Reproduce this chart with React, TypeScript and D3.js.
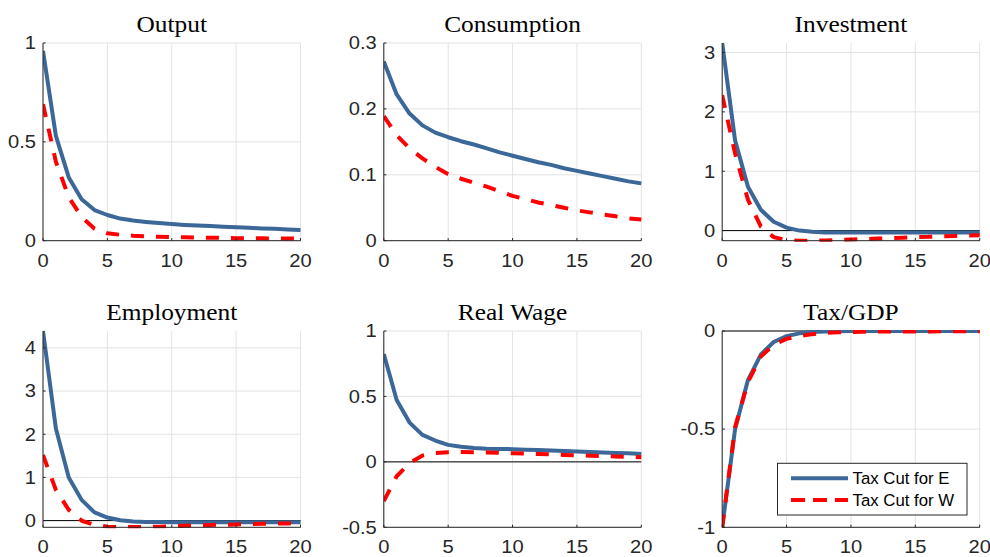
import React from "react";
import * as d3 from "d3";

const periods = d3.range(0, 21);
const xTicks = [0, 5, 10, 15, 20];

const titles = ["Output", "Consumption", "Investment", "Employment", "Real Wage", "Tax/GDP"];
const yDomains: [number, number][] = [[0, 1], [0, 0.3], [-0.17, 3.16], [-0.155, 4.39], [-0.5, 1], [-1, 0]];
const yTicks = [[0, 0.5, 1], [0, 0.1, 0.2, 0.3], [0, 1, 2, 3], [0, 1, 2, 3, 4], [-0.5, 0, 0.5, 1], [-1, -0.5, 0]];
const zeroLine = [false, false, true, true, true, true];

const outputE = [0.96, 0.53, 0.32, 0.21, 0.155, 0.13, 0.112, 0.102, 0.095, 0.089, 0.084, 0.08, 0.077, 0.074, 0.071, 0.068, 0.065, 0.062, 0.06, 0.057, 0.054];
const outputW = [0.69, 0.4, 0.22, 0.12, 0.06, 0.038, 0.03, 0.025, 0.022, 0.02, 0.018, 0.017, 0.016, 0.015, 0.014, 0.013, 0.012, 0.012, 0.011, 0.011, 0.01];
const consE = [0.272, 0.222, 0.193, 0.175, 0.164, 0.157, 0.151, 0.146, 0.14, 0.134, 0.129, 0.124, 0.119, 0.115, 0.11, 0.106, 0.102, 0.098, 0.094, 0.09, 0.087];
const consW = [0.189, 0.16, 0.14, 0.125, 0.112, 0.101, 0.094, 0.088, 0.082, 0.075, 0.068, 0.063, 0.058, 0.054, 0.05, 0.046, 0.043, 0.04, 0.037, 0.034, 0.032];
const invE = [3.16, 1.52, 0.74, 0.35, 0.15, 0.05, 0.0, -0.02, -0.03, -0.03, -0.03, -0.03, -0.03, -0.03, -0.03, -0.03, -0.03, -0.03, -0.03, -0.03, -0.03];
const invW = [2.28, 1.3, 0.52, 0.07, -0.11, -0.16, -0.17, -0.17, -0.165, -0.16, -0.15, -0.145, -0.135, -0.13, -0.12, -0.11, -0.105, -0.095, -0.09, -0.085, -0.08];
const empE = [4.39, 2.13, 1.0, 0.48, 0.19, 0.07, 0.01, -0.02, -0.03, -0.035, -0.04, -0.04, -0.04, -0.04, -0.04, -0.04, -0.04, -0.04, -0.04, -0.04, -0.04];
const empW = [1.52, 0.71, 0.25, 0.0, -0.1, -0.14, -0.15, -0.15, -0.145, -0.14, -0.13, -0.12, -0.11, -0.1, -0.095, -0.09, -0.08, -0.075, -0.07, -0.065, -0.06];
const wageE = [0.824, 0.473, 0.3, 0.206, 0.163, 0.13, 0.115, 0.106, 0.101, 0.099, 0.097, 0.093, 0.09, 0.087, 0.083, 0.079, 0.076, 0.072, 0.068, 0.065, 0.061];
const wageW = [-0.3, -0.11, -0.01, 0.048, 0.068, 0.074, 0.075, 0.074, 0.072, 0.069, 0.066, 0.063, 0.06, 0.057, 0.053, 0.05, 0.047, 0.044, 0.041, 0.038, 0.035];
const taxE = [-1.0, -0.5, -0.25, -0.12, -0.056, -0.026, -0.012, -0.005, -0.002, -0.001, 0, 0, 0, 0, 0, 0, 0, 0, 0, 0, 0];
const taxW = [-1.0, -0.49, -0.26, -0.13, -0.07, -0.04, -0.025, -0.016, -0.01, -0.007, -0.005, -0.004, -0.003, -0.003, -0.002, -0.002, -0.002, -0.001, -0.001, -0.001, -0.001];

const seriesE = [outputE, consE, invE, empE, wageE, taxE];
const seriesW = [outputW, consW, invW, empW, wageW, taxW];
const legendLabels = ["Tax Cut for E", "Tax Cut for W"];

const BLUE = "#3b6898";
const RED = "#ff0000";
const TXT = "#262626";

const colLeft = [43, 383.8, 722.2];
const plotW = 257.5;
const rowTop = [43, 331];
const rowBottom = [240.7, 527.3];

function fmt(v: number) {
  return String(v);
}

function Panel({ i }: { i: number }) {
  const c = i % 3;
  const r = Math.floor(i / 3);
  const x0 = colLeft[c];
  const x1 = x0 + plotW;
  const y0 = rowTop[r];
  const y1 = rowBottom[r];
  const xs = d3.scaleLinear().domain([0, 20]).range([x0, x1]);
  const ys = d3.scaleLinear().domain(yDomains[i]).range([y1, y0]);
  const line = d3.line<number>().x((_, k) => xs(periods[k])).y((d) => ys(d));
  const clipId = `clip${i}`;
  return (
    <g>
      <defs>
        <clipPath id={clipId}>
          <rect x={x0} y={y0 - 1} width={plotW + 2} height={y1 - y0 + 2} />
        </clipPath>
      </defs>
      {/* grid */}
      {xTicks.map((t) => (
        <line key={"gx" + t} x1={xs(t)} x2={xs(t)} y1={y0} y2={y1} stroke="#e3e3e3" strokeWidth={1} />
      ))}
      {yTicks[i].map((t) => (
        <line key={"gy" + t} x1={x0} x2={x1} y1={ys(t)} y2={ys(t)} stroke="#e3e3e3" strokeWidth={1} />
      ))}
      {zeroLine[i] && <line x1={x0} x2={x1} y1={ys(0)} y2={ys(0)} stroke="#000" strokeWidth={1} />}
      <g clipPath={`url(#${clipId})`}>
        <path d={line(seriesE[i]) || ""} fill="none" stroke={BLUE} strokeWidth={4} strokeLinejoin="round" />
        <path d={line(seriesW[i]) || ""} fill="none" stroke={RED} strokeWidth={4} strokeDasharray="13 12" />
      </g>
      {/* axes */}
      <line x1={x0} x2={x0} y1={y0} y2={y1} stroke={TXT} strokeWidth={1} />
      <line x1={x0} x2={x1} y1={y1} y2={y1} stroke={TXT} strokeWidth={1} />
      {xTicks.map((t) => (
        <line key={"tx" + t} x1={xs(t)} x2={xs(t)} y1={y1} y2={y1 - 2.6} stroke={TXT} strokeWidth={1} />
      ))}
      {yTicks[i].map((t) => (
        <line key={"ty" + t} x1={x0} x2={x0 + 2.6} y1={ys(t)} y2={ys(t)} stroke={TXT} strokeWidth={1} />
      ))}
      {xTicks.map((t) => (
        <text key={"lx" + t} transform={`translate(${xs(t)},${y1 + 26}) scale(1.15,1)`} textAnchor="middle"
          fontFamily="Liberation Sans, Arial, sans-serif" fontSize={17.5} fill={TXT}>{fmt(t)}</text>
      ))}
      {yTicks[i].map((t) => (
        <text key={"ly" + t} transform={`translate(${x0 - 7},${ys(t) + 6.3}) scale(1.15,1)`} textAnchor="end"
          fontFamily="Liberation Sans, Arial, sans-serif" fontSize={17.5} fill={TXT}>{fmt(t)}</text>
      ))}
      <text transform={`translate(${(x0 + x1) / 2},${y0 - 11}) scale(1.08,1)`} textAnchor="middle"
        fontFamily="Liberation Serif, Times New Roman, serif" fontSize={23.5} fill="#000">{titles[i]}</text>
    </g>
  );
}

function Legend() {
  const lx = 777.5, ly = 463.3, lw = 189.5, lh = 51.7;
  const rows = [478.3, 500];
  return (
    <g>
      <rect x={lx} y={ly} width={lw} height={lh} fill="#fff" stroke={TXT} strokeWidth={1} />
      <line x1={791} x2={848} y1={rows[0]} y2={rows[0]} stroke={BLUE} strokeWidth={4} />
      <line x1={791} x2={848} y1={rows[1]} y2={rows[1]} stroke={RED} strokeWidth={4} strokeDasharray="14 8" />
      {legendLabels.map((l, k) => (
        <text key={l} x={852.5} y={rows[k] + 6} fontFamily="Liberation Sans, Arial, sans-serif" fontSize={16.8} fill="#000">{l}</text>
      ))}
    </g>
  );
}

export default function App() {
  return (
    <svg width={990} height={557} style={{ position: "absolute", left: 0, top: 0, background: "#fff" }}>
      <rect width={990} height={557} fill="#fff" />
      {titles.map((_, i) => <Panel key={i} i={i} />)}
      <Legend />
    </svg>
  );
}
